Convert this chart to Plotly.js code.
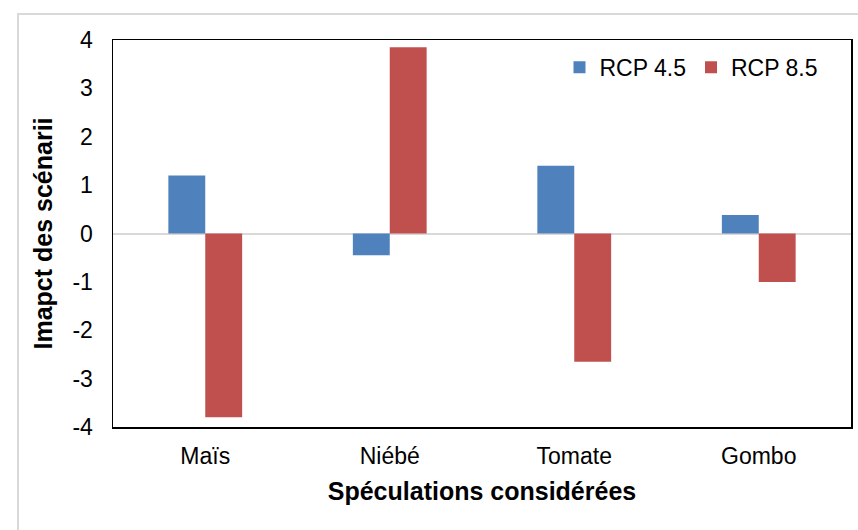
<!DOCTYPE html>
<html><head><meta charset="utf-8">
<script src="https://cdn.plot.ly/plotly-3.0.1.min.js"></script>
<style>
body{margin:0;background:#fff;}
#frame{position:absolute;left:17px;top:13px;width:900px;height:600px;border:2px solid #d9d9d9;box-sizing:border-box;}
#chart{position:absolute;left:0;top:0;width:858px;height:530px;}
</style></head>
<body>
<div id="frame"></div>
<div id="chart"></div>
<script>
const categories = ["Maïs", "Niébé", "Tomate", "Gombo"];
const rcp45 = [1.2, -0.45, 1.4, 0.38];
const rcp85 = [-3.8, 3.85, -2.65, -1.0];
const seriesNames = ["RCP 4.5", "RCP 8.5"];
const tickVals = [-4, -3, -2, -1, 0, 1, 2, 3, 4];
const tickText = tickVals.map(v => String(v));

const font = "Liberation Sans, Arial, sans-serif";
const traces = [
  {type:"bar", name:seriesNames[0], x:categories, y:rcp45, marker:{color:"#4f81bd"}},
  {type:"bar", name:seriesNames[1], x:categories, y:rcp85, marker:{color:"#c0504d"}}
];
const layout = {
  width:858, height:530,
  paper_bgcolor:"rgba(0,0,0,0)", plot_bgcolor:"rgba(0,0,0,0)",
  margin:{l:113, r:7, t:40, b:103},
  barmode:"group", bargap:0.6, bargroupgap:0,
  font:{family:font, size:23, color:"#000"},
  showlegend:true,
  legend:{orientation:"h", x:0.605, y:0.985, xanchor:"left", yanchor:"top",
          font:{family:font, size:23, color:"#000"}, bgcolor:"rgba(0,0,0,0)",
          itemwidth:30, traceorder:"normal"},
  xaxis:{showline:true, linecolor:"#000", linewidth:1.5, mirror:true,
         showgrid:false, zeroline:false, ticks:"", ticklabelstandoff:8,
         tickfont:{family:font, size:23},
         title:{text:"<b>Spéculations considérées</b>", font:{family:font, size:25}, standoff:14}},
  yaxis:{range:[-4,4], tickvals:tickVals, ticktext:tickText, showline:true, linecolor:"#000", linewidth:1.5, mirror:true,
         showgrid:false, zeroline:true, zerolinecolor:"#d9d9d9", zerolinewidth:2,
         ticks:"", ticklabelstandoff:14, tickfont:{family:font, size:23},
         title:{text:"<b>Imapct des scénarii</b>", font:{family:font, size:25}, standoff:12}}
};
Plotly.newPlot("chart", traces, layout, {displayModeBar:false, staticPlot:true});
</script>
</body></html>
